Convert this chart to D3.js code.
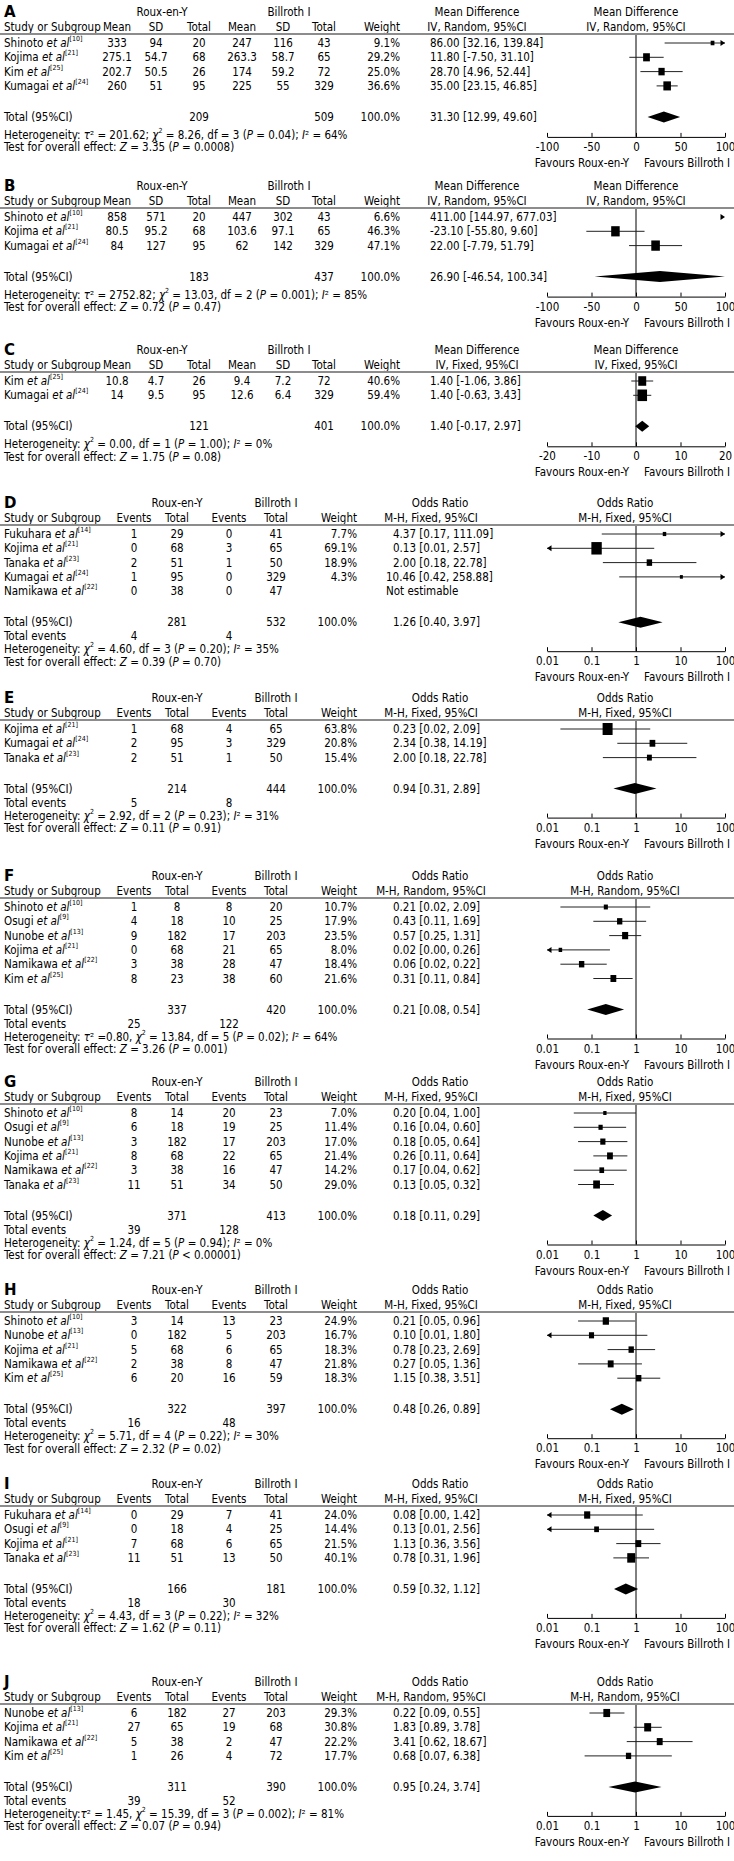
<!DOCTYPE html>
<html><head><meta charset="utf-8">
<script src="https://cdn.jsdelivr.net/npm/d3@7"></script>
<style>
body{margin:0;background:#fff;}
svg text{font-family:"DejaVu Sans Condensed","Liberation Sans Narrow","DejaVu Sans",sans-serif;font-size:11.5px;fill:#000;}
svg text.lbl{font-family:"DejaVu Sans",sans-serif;font-weight:bold;font-size:15px;}
</style></head><body>
<svg id="c" width="734" height="1861"></svg>
<script>
// ---------------- DATA ----------------
const letters = ["A","B","C","D","E","F","G","H","I","J"];
const types = ["MD","MD","MD","OR","OR","OR","OR","OR","OR","OR"];
const methods = ["IV, Random, 95%CI","IV, Random, 95%CI","IV, Fixed, 95%CI","M-H, Fixed, 95%CI","M-H, Fixed, 95%CI","M-H, Random, 95%CI","M-H, Fixed, 95%CI","M-H, Fixed, 95%CI","M-H, Fixed, 95%CI","M-H, Random, 95%CI"];
const mdTicks = [-100,-50,0,50,100];
const mdTicksC = [-20,-10,0,10,20];
const orTicks = [0.01,0.1,1,10,100];

// MD rows: study, ref, mean1, sd1, n1, mean2, sd2, n2, weight, est, lo, hi
const rowsA = [
  ["Shinoto",10,"333","94","20","247","116","43",9.1,86.00,32.16,139.84],
  ["Kojima",21,"275.1","54.7","68","263.3","58.7","65",29.2,11.80,-7.50,31.10],
  ["Kim",25,"202.7","50.5","26","174","59.2","72",25.0,28.70,4.96,52.44],
  ["Kumagai",24,"260","51","95","225","55","329",36.6,35.00,23.15,46.85]];
const totA = [209,509,31.30,12.99,49.60];
const hetA = "Heterogeneity: *τ*² = 201.62; *χ*^2^ = 8.26, df = 3 (*P* = 0.04); *I*² = 64%";
const testA = "Test for overall effect: *Z* = 3.35 (*P* = 0.0008)";

const rowsB = [
  ["Shinoto",10,"858","571","20","447","302","43",6.6,411.00,144.97,677.03],
  ["Kojima",21,"80.5","95.2","68","103.6","97.1","65",46.3,-23.10,-55.80,9.60],
  ["Kumagai",24,"84","127","95","62","142","329",47.1,22.00,-7.79,51.79]];
const totB = [183,437,26.90,-46.54,100.34];
const hetB = "Heterogeneity: *τ*² = 2752.82; *χ*^2^ = 13.03, df = 2 (*P* = 0.001); *I*² = 85%";
const testB = "Test for overall effect: *Z* = 0.72 (*P* = 0.47)";

const rowsC = [
  ["Kim",25,"10.8","4.7","26","9.4","7.2","72",40.6,1.40,-1.06,3.86],
  ["Kumagai",24,"14","9.5","95","12.6","6.4","329",59.4,1.40,-0.63,3.43]];
const totC = [121,401,1.40,-0.17,2.97];
const hetC = "Heterogeneity: *χ*^2^ = 0.00, df = 1 (*P* = 1.00); *I*² = 0%";
const testC = "Test for overall effect: *Z* = 1.75 (*P* = 0.08)";

// OR rows: study, ref, events1, total1, events2, total2, weight, est, lo, hi
const rowsD = [
  ["Fukuhara",14,1,29,0,41,7.7,4.37,0.17,111.09],
  ["Kojima",21,0,68,3,65,69.1,0.13,0.01,2.57],
  ["Tanaka",23,2,51,1,50,18.9,2.00,0.18,22.78],
  ["Kumagai",24,1,95,0,329,4.3,10.46,0.42,258.88],
  ["Namikawa",22,0,38,0,47,null,null,null,null]];
const totD = [281,532,1.26,0.40,3.97,4,4];
const hetD = "Heterogeneity: *χ*^2^ = 4.60, df = 3 (*P* = 0.20); *I*² = 35%";
const testD = "Test for overall effect: *Z* = 0.39 (*P* = 0.70)";

const rowsE = [
  ["Kojima",21,1,68,4,65,63.8,0.23,0.02,2.09],
  ["Kumagai",24,2,95,3,329,20.8,2.34,0.38,14.19],
  ["Tanaka",23,2,51,1,50,15.4,2.00,0.18,22.78]];
const totE = [214,444,0.94,0.31,2.89,5,8];
const hetE = "Heterogeneity: *χ*^2^ = 2.92, df = 2 (*P* = 0.23); *I*² = 31%";
const testE = "Test for overall effect: *Z* = 0.11 (*P* = 0.91)";

const rowsF = [
  ["Shinoto",10,1,8,8,20,10.7,0.21,0.02,2.09],
  ["Osugi",9,4,18,10,25,17.9,0.43,0.11,1.69],
  ["Nunobe",13,9,182,17,203,23.5,0.57,0.25,1.31],
  ["Kojima",21,0,68,21,65,8.0,0.02,0.00,0.26],
  ["Namikawa",22,3,38,28,47,18.4,0.06,0.02,0.22],
  ["Kim",25,8,23,38,60,21.6,0.31,0.11,0.84]];
const totF = [337,420,0.21,0.08,0.54,25,122];
const hetF = "Heterogeneity: *τ*² =0.80, *χ*^2^ = 13.84, df = 5 (*P* = 0.02); *I*² = 64%";
const testF = "Test for overall effect: *Z* = 3.26 (*P* = 0.001)";

const rowsG = [
  ["Shinoto",10,8,14,20,23,7.0,0.20,0.04,1.00],
  ["Osugi",9,6,18,19,25,11.4,0.16,0.04,0.60],
  ["Nunobe",13,3,182,17,203,17.0,0.18,0.05,0.64],
  ["Kojima",21,8,68,22,65,21.4,0.26,0.11,0.64],
  ["Namikawa",22,3,38,16,47,14.2,0.17,0.04,0.62],
  ["Tanaka",23,11,51,34,50,29.0,0.13,0.05,0.32]];
const totG = [371,413,0.18,0.11,0.29,39,128];
const hetG = "Heterogeneity: *χ*^2^ = 1.24, df = 5 (*P* = 0.94); *I*² = 0%";
const testG = "Test for overall effect: *Z* = 7.21 (*P* < 0.00001)";

const rowsH = [
  ["Shinoto",10,3,14,13,23,24.9,0.21,0.05,0.96],
  ["Nunobe",13,0,182,5,203,16.7,0.10,0.01,1.80],
  ["Kojima",21,5,68,6,65,18.3,0.78,0.23,2.69],
  ["Namikawa",22,2,38,8,47,21.8,0.27,0.05,1.36],
  ["Kim",25,6,20,16,59,18.3,1.15,0.38,3.51]];
const totH = [322,397,0.48,0.26,0.89,16,48];
const hetH = "Heterogeneity: *χ*^2^ = 5.71, df = 4 (*P* = 0.22); *I*² = 30%";
const testH = "Test for overall effect: *Z* = 2.32 (*P* = 0.02)";

const rowsI = [
  ["Fukuhara",14,0,29,7,41,24.0,0.08,0.00,1.42],
  ["Osugi",9,0,18,4,25,14.4,0.13,0.01,2.56],
  ["Kojima",21,7,68,6,65,21.5,1.13,0.36,3.56],
  ["Tanaka",23,11,51,13,50,40.1,0.78,0.31,1.96]];
const totI = [166,181,0.59,0.32,1.12,18,30];
const hetI = "Heterogeneity: *χ*^2^ = 4.43, df = 3 (*P* = 0.22); *I*² = 32%";
const testI = "Test for overall effect: *Z* = 1.62 (*P* = 0.11)";

const rowsJ = [
  ["Nunobe",13,6,182,27,203,29.3,0.22,0.09,0.55],
  ["Kojima",21,27,65,19,68,30.8,1.83,0.89,3.78],
  ["Namikawa",22,5,38,2,47,22.2,3.41,0.62,18.67],
  ["Kim",25,1,26,4,72,17.7,0.68,0.07,6.38]];
const totJ = [311,390,0.95,0.24,3.74,39,52];
const hetJ = "Heterogeneity:*τ*² = 1.45, *χ*^2^ = 15.39, df = 3 (*P* = 0.002); *I*² = 81%";
const testJ = "Test for overall effect: *Z* = 0.07 (*P* = 0.94)";

const panels = [
  {rows:rowsA,tot:totA,het:hetA,test:testA,ticks:mdTicks},
  {rows:rowsB,tot:totB,het:hetB,test:testB,ticks:mdTicks},
  {rows:rowsC,tot:totC,het:hetC,test:testC,ticks:mdTicksC},
  {rows:rowsD,tot:totD,het:hetD,test:testD,ticks:orTicks},
  {rows:rowsE,tot:totE,het:hetE,test:testE,ticks:orTicks},
  {rows:rowsF,tot:totF,het:hetF,test:testF,ticks:orTicks},
  {rows:rowsG,tot:totG,het:hetG,test:testG,ticks:orTicks},
  {rows:rowsH,tot:totH,het:hetH,test:testH,ticks:orTicks},
  {rows:rowsI,tot:totI,het:hetI,test:testI,ticks:orTicks},
  {rows:rowsJ,tot:totJ,het:hetJ,test:testJ,ticks:orTicks}];

// ---------------- LAYOUT ----------------
const panelY = [12,186,350,503,698,876,1082,1290,1484,1682];
const ROW = 14.3;
const svg = d3.select("#c");

function rich(g, x, y, str, anchor){
  const t = g.append("text").attr("x",x).attr("y",y).attr("dominant-baseline","central")
    .attr("text-anchor",anchor||"start");
  const parts = str.split(/(\*[^*]+\*|\^[^^]+\^)/).filter(s=>s.length);
  let raised = false;
  parts.forEach(p=>{
    let ts;
    if (p[0]==="^"){
      t.append("tspan").attr("dy",-4).style("font-size","7px").text(p.slice(1,-1));
      raised = true; return;
    }
    if (p[0]==="*") ts = t.append("tspan").style("font-style","italic").text(p.slice(1,-1));
    else ts = t.append("tspan").text(p);
    if (raised){ ts.attr("dy",4); raised=false; }
  });
  return t;
}

function drawPanel(p, i){
  const L = panelY[i], md = types[i]==="MD";
  const g = svg.append("g");
  const T = (x,y,s,anchor)=>g.append("text").attr("x",x).attr("y",y)
     .attr("text-anchor",anchor||"start").attr("dominant-baseline","central").text(s);
  T(4, L, letters[i]).attr("class","lbl");
  const rouxX = md?162:177, billX = md?289:276, effX = md?477:440, methX = md?477:431, plotHX = md?636:625;
  const eff = md?"Mean Difference":"Odds Ratio";
  T(rouxX,L,"Roux-en-Y","middle"); T(billX,L,"Billroth Ⅰ","middle");
  T(effX,L,eff,"middle"); T(plotHX,L,eff,"middle");
  const h2 = L+15;
  T(4,h2,"Study or Subgroup");
  const colX = md?[117,156,199,242,283,324]:[134,177,229,276];
  const colH = md?["Mean","SD","Total","Mean","SD","Total"]:["Events","Total","Events","Total"];
  colH.forEach((h,k)=>T(colX[k],h2,h,"middle"));
  const wX = md?400:357, ciX = md?430:393;
  T(wX,h2,"Weight","end");
  T(methX,h2,methods[i],"middle"); T(plotHX,h2,methods[i],"middle");
  const lineY = L+22;
  g.append("line").attr("x1",0).attr("x2",734).attr("y1",lineY).attr("y2",lineY)
    .attr("stroke","#8c8c8c").attr("stroke-width",2);

  const x = (md ? d3.scaleLinear() : d3.scaleLog()).domain([p.ticks[0],p.ticks[p.ticks.length-1]]).range([547,725]);
  const [d0,d1] = x.domain();
  const nC = colX.length;
  const ciStr = (e,lo,hi)=> e==null ? "Not estimable" : `${e.toFixed(2)} [${lo.toFixed(2)}, ${hi.toFixed(2)}]`;
  const ciShift = e => (!md && (e==null || Math.abs(e)>=10)) ? -7 : 0;

  const rowYs = [];
  p.rows.forEach((r,k)=>{
    const ry = L+31+ROW*k; rowYs.push(ry);
    rich(g,4,ry,`${r[0]} *et al*^[${r[1]}]^`);
    r.slice(2,2+nC).forEach((v,c)=>T(colX[c],ry,String(v),"middle"));
    const [w,e,lo,hi] = r.slice(2+nC);
    if (w!=null) T(wX,ry,w.toFixed(1)+"%","end");
    T(ciX+ciShift(e),ry,ciStr(e,lo,hi));
  });
  const lastY = rowYs[rowYs.length-1];
  const totY = lastY+31;
  const t = p.tot;
  T(4,totY,"Total (95%CI)");
  T(colX[md?2:1],totY,String(t[0]),"middle");
  T(colX[md?5:3],totY,String(t[1]),"middle");
  T(wX,totY,"100.0%","end");
  T(ciX,totY,ciStr(t[2],t[3],t[4]));
  let hetY;
  if (!md){
    const evY = totY+14;
    T(4,evY,"Total events");
    T(colX[0],evY,String(t[5]),"middle");
    T(colX[2],evY,String(t[6]),"middle");
    hetY = evY+13;
  } else hetY = totY+18;
  const testY = hetY + 12.5;
  rich(g,4,hetY,p.het);
  rich(g,4,testY,p.test);

  // plot
  const axisY = totY + (md?20:29);
  const zero = x(md?0:1);
  g.append("line").attr("x1",zero).attr("x2",zero).attr("y1",lineY+1).attr("y2",axisY)
    .attr("stroke","#000").attr("stroke-width",1);
  p.rows.forEach((r,k)=>{
    const [w,e,lo,hi] = r.slice(2+nC);
    if (w==null) return;
    const ry = rowYs[k];
    if (lo < d1 && hi > d0){
      g.append("line").attr("x1",x(Math.max(lo,d0))).attr("x2",x(Math.min(hi,d1)))
        .attr("y1",ry).attr("y2",ry).attr("stroke","#222").attr("stroke-width",1);
    }
    if (lo <= d0 && hi > d0){
      const ax = x(d0);
      g.append("path").attr("d",`M${ax},${ry}L${ax+4.5},${ry-3}L${ax+4.5},${ry+3}Z`).attr("fill","#000");
    }
    if (hi >= d1){
      const ax = x(d1);
      g.append("path").attr("d",`M${ax},${ry}L${ax-4.5},${ry-3}L${ax-4.5},${ry+3}Z`).attr("fill","#000");
    }
    if (e > d0 && e < d1){
      const sw = Math.max(3, 1.25*Math.sqrt(w)), sh = sw*1.2;
      g.append("rect").attr("x",x(e)-sw/2).attr("y",ry-sh/2).attr("width",sw).attr("height",sh).attr("fill","#000");
    }
  });
  const cl = v=>x(Math.max(d0,Math.min(d1,v)));
  g.append("path").attr("d",`M${cl(t[3])},${totY}L${cl(t[2])},${totY-5.5}L${cl(t[4])},${totY}L${cl(t[2])},${totY+5.5}Z`)
    .attr("fill","#000");
  const axis = d3.axisBottom(x).tickValues(p.ticks).tickSizeInner(-4).tickSizeOuter(0)
     .tickPadding(6).tickFormat(d=>String(d));
  g.append("g").attr("transform",`translate(0,${axisY})`).call(axis)
    .call(s=>s.select(".domain").attr("stroke","#000"));
  T(zero-7,axisY+26,"Favours Roux-en-Y","end");
  T(zero+8,axisY+26,"Favours Billroth Ⅰ","start");
}
panels.forEach((p,i)=>drawPanel(p,i));
</script>
</body></html>
